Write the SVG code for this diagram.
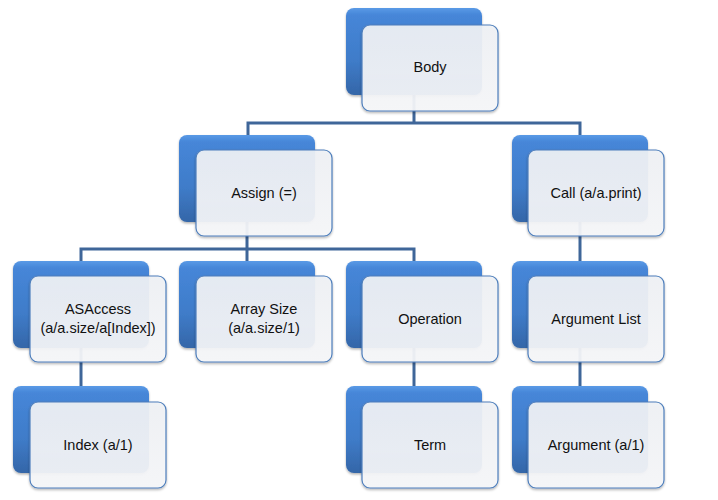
<svg xmlns="http://www.w3.org/2000/svg" width="718" height="500" viewBox="0 0 718 500">
<defs>
<linearGradient id="blueG" x1="0" y1="0" x2="0" y2="1">
<stop offset="0" stop-color="#5a9ae6"/>
<stop offset="0.08" stop-color="#4686d8"/>
<stop offset="0.6" stop-color="#3f7cc9"/>
<stop offset="1" stop-color="#3466a8"/>
</linearGradient>
<linearGradient id="frontG" x1="0" y1="0" x2="0" y2="1">
<stop offset="0" stop-color="#f0f2f6"/>
<stop offset="1" stop-color="#f7f8fa"/>
</linearGradient>
<filter id="sh" x="-10%" y="-10%" width="125%" height="130%">
<feDropShadow dx="0" dy="1.5" stdDeviation="1.2" flood-color="#000" flood-opacity="0.3"/>
</filter>
</defs>
<style>
.back{fill:url(#blueG);filter:url(#sh)}
.front{fill:url(#frontG);fill-opacity:0.92;stroke:#4f7fbc;stroke-width:1.2;filter:url(#sh)}
.lbl{font-family:"Liberation Sans",Arial,sans-serif;font-size:14.5px;fill:#111;text-anchor:middle}
.conn{fill:none;stroke:#3f6699;stroke-width:3}
</style>
<g id="connectors">
<path class="conn" d="M414 90V123M248 135V123H580V135"/>
<path class="conn" d="M247 220V249M81 261V249H414V261M247 249V261"/>
<path class="conn" d="M580 220V261"/>
<path class="conn" d="M81 347V386"/>
<path class="conn" d="M414 347V386"/>
<path class="conn" d="M580 347V386"/>
</g>
<g id="body">
<rect class="back" x="346" y="8" width="136" height="87" rx="8"/>
<rect class="front" x="362" y="25" width="136" height="86" rx="8"/>
<text class="lbl" x="430" y="72">Body</text>
</g>
<g id="assign">
<rect class="back" x="179" y="135" width="136" height="87" rx="8"/>
<rect class="front" x="196" y="150" width="136" height="86" rx="8"/>
<text class="lbl" x="264" y="198">Assign (=)</text>
</g>
<g id="call">
<rect class="back" x="512" y="135" width="136" height="87" rx="8"/>
<rect class="front" x="528" y="150" width="136" height="86" rx="8"/>
<text class="lbl" x="596" y="198">Call (a/a.print)</text>
</g>
<g id="asaccess">
<rect class="back" x="13" y="261" width="136" height="87" rx="8"/>
<rect class="front" x="30" y="276" width="136" height="86" rx="8"/>
<text class="lbl" x="98" y="314">ASAccess</text>
<text class="lbl" x="98" y="333">(a/a.size/a[Index])</text>
</g>
<g id="arraysize">
<rect class="back" x="179" y="261" width="136" height="87" rx="8"/>
<rect class="front" x="196" y="276" width="136" height="86" rx="8"/>
<text class="lbl" x="264" y="314">Array Size</text>
<text class="lbl" x="264" y="333">(a/a.size/1)</text>
</g>
<g id="operation">
<rect class="back" x="346" y="261" width="136" height="87" rx="8"/>
<rect class="front" x="362" y="276" width="136" height="86" rx="8"/>
<text class="lbl" x="430" y="324">Operation</text>
</g>
<g id="argumentlist">
<rect class="back" x="512" y="261" width="136" height="87" rx="8"/>
<rect class="front" x="528" y="276" width="136" height="86" rx="8"/>
<text class="lbl" x="596" y="324">Argument List</text>
</g>
<g id="index">
<rect class="back" x="13" y="386" width="136" height="87" rx="8"/>
<rect class="front" x="30" y="402" width="136" height="86" rx="8"/>
<text class="lbl" x="98" y="450">Index (a/1)</text>
</g>
<g id="term">
<rect class="back" x="346" y="386" width="136" height="87" rx="8"/>
<rect class="front" x="362" y="402" width="136" height="86" rx="8"/>
<text class="lbl" x="430" y="450">Term</text>
</g>
<g id="argument">
<rect class="back" x="512" y="386" width="136" height="87" rx="8"/>
<rect class="front" x="528" y="402" width="136" height="86" rx="8"/>
<text class="lbl" x="596" y="450">Argument (a/1)</text>
</g>
</svg>
